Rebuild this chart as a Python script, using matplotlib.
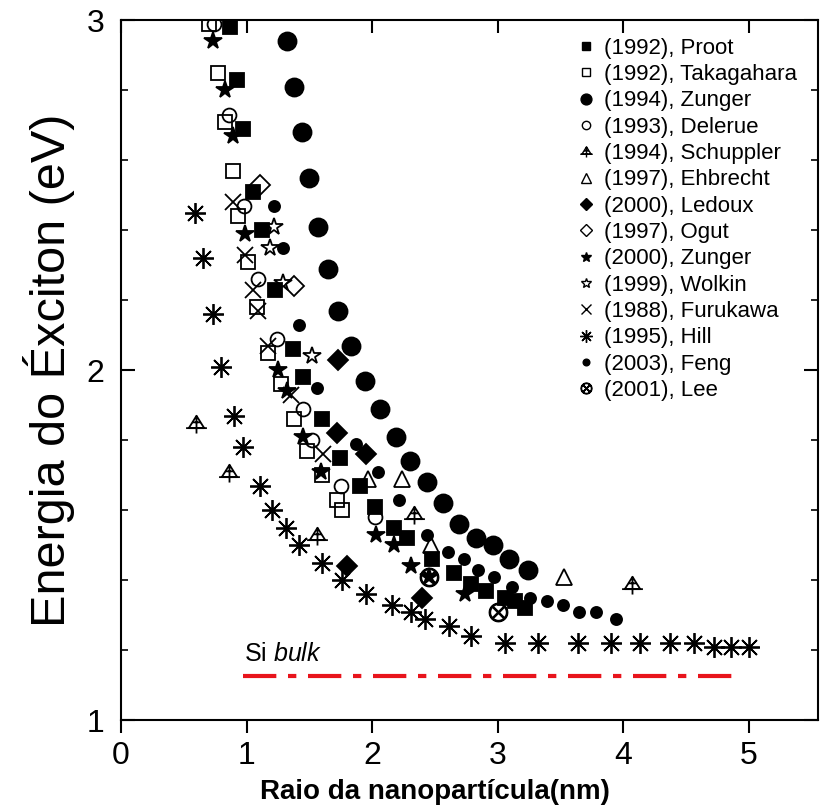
import matplotlib
matplotlib.use("Agg")
import matplotlib.pyplot as plt
from matplotlib.path import Path
from matplotlib.lines import Line2D
from matplotlib.ticker import MultipleLocator

plt.rcParams['font.family'] = ['Liberation Sans', 'DejaVu Sans']
plt.rcParams['mathtext.fontset'] = 'custom'
plt.rcParams['mathtext.rm'] = 'Liberation Sans'
plt.rcParams['mathtext.it'] = 'Liberation Sans:italic'

# ---- dados (raio em nm, energia em eV) ----
proot_x = [0.87, 0.92, 0.97, 1.05, 1.12, 1.23, 1.37, 1.45, 1.60, 1.74, 1.90, 2.02, 2.17, 2.28, 2.48, 2.65, 2.79, 2.91, 3.06, 3.14, 3.22]
proot_y = [2.98, 2.83, 2.69, 2.51, 2.40, 2.23, 2.06, 1.98, 1.86, 1.75, 1.67, 1.61, 1.55, 1.52, 1.46, 1.42, 1.39, 1.37, 1.35, 1.34, 1.32]

takagahara_x = [0.70, 0.77, 0.83, 0.89, 0.93, 1.01, 1.08, 1.17, 1.27, 1.38, 1.48, 1.60, 1.72, 1.76]
takagahara_y = [2.99, 2.85, 2.71, 2.57, 2.44, 2.31, 2.18, 2.05, 1.96, 1.86, 1.77, 1.70, 1.63, 1.60]

zunger94_x = [1.32, 1.38, 1.44, 1.50, 1.57, 1.65, 1.73, 1.83, 1.94, 2.06, 2.19, 2.30, 2.44, 2.56, 2.69, 2.83, 2.96, 3.09, 3.24]
zunger94_y = [2.94, 2.81, 2.68, 2.55, 2.41, 2.29, 2.17, 2.07, 1.97, 1.89, 1.81, 1.74, 1.68, 1.62, 1.56, 1.52, 1.50, 1.46, 1.43]

delerue_x = [0.74, 0.86, 0.98, 1.09, 1.24, 1.45, 1.52, 1.75, 2.02]
delerue_y = [2.99, 2.73, 2.47, 2.26, 2.09, 1.89, 1.80, 1.67, 1.58]

schuppler_x = [0.60, 0.86, 1.56, 2.33, 4.07]
schuppler_y = [1.85, 1.71, 1.53, 1.59, 1.39]

ehbrecht_x = [1.97, 2.24, 2.47, 3.53]
ehbrecht_y = [1.69, 1.69, 1.50, 1.41]

ledoux_x = [1.73, 1.72, 1.95, 1.80, 2.40]
ledoux_y = [2.03, 1.82, 1.76, 1.44, 1.35]

ogut_x = [1.11, 1.38]
ogut_y = [2.53, 2.24]

zunger00_x = [0.73, 0.83, 0.89, 0.99, 1.25, 1.32, 1.45, 1.59, 2.03, 2.17, 2.31, 2.45, 2.74]
zunger00_y = [2.94, 2.80, 2.67, 2.39, 2.00, 1.94, 1.81, 1.71, 1.53, 1.50, 1.44, 1.41, 1.36]

wolkin_x = [1.19, 1.22, 1.29, 1.52]
wolkin_y = [2.35, 2.41, 2.25, 2.04]

furukawa_x = [0.89, 0.99, 1.05, 1.09, 1.17, 1.35, 1.61]
furukawa_y = [2.48, 2.33, 2.23, 2.17, 2.07, 1.93, 1.76]

hill_x = [0.59, 0.65, 0.73, 0.80, 0.90, 0.97, 1.11, 1.20, 1.31, 1.42, 1.60, 1.76, 1.95, 2.16, 2.31, 2.42,
          2.61, 2.79, 3.06, 3.32, 3.64, 3.90, 4.13, 4.37, 4.56, 4.72, 4.86, 5.00]
hill_y = [2.45, 2.32, 2.16, 2.01, 1.87, 1.78, 1.67, 1.60, 1.55, 1.50, 1.45, 1.40, 1.36, 1.33, 1.31, 1.29,
          1.27, 1.24, 1.22, 1.22, 1.22, 1.22, 1.22, 1.22, 1.22, 1.21, 1.21, 1.21]

feng_x = [1.22, 1.29, 1.42, 1.56, 1.87, 2.05, 2.21, 2.44, 2.60, 2.73, 2.84, 2.97, 3.11, 3.26, 3.39, 3.52, 3.65, 3.78, 3.94]
feng_y = [2.47, 2.35, 2.13, 1.95, 1.79, 1.71, 1.63, 1.53, 1.48, 1.46, 1.43, 1.41, 1.38, 1.35, 1.34, 1.33, 1.31, 1.31, 1.29]

lee_x = [2.45, 3.00]
lee_y = [1.41, 1.31]

# energia do Si bulk
bulk_x = [0.97, 4.94]
bulk_energia = 1.125

# marcador triangulo com cruz (Schuppler)
tri_cruz = Path(
    [(-1, -0.6), (1, -0.6), (0, 1), (0, 0),
     (0, 1), (0, -1.3),
     (-1.35, -0.6), (1.35, -0.6),
     (-0.5, 0.15), (0.5, 0.15)],
    [Path.MOVETO, Path.LINETO, Path.LINETO, Path.CLOSEPOLY,
     Path.MOVETO, Path.LINETO,
     Path.MOVETO, Path.LINETO,
     Path.MOVETO, Path.LINETO])

# (label, x, y, marker, tamanho, preenchido)
series = [
    ('(1992), Proot', proot_x, proot_y, 's', 10, True),
    ('(1992), Takagahara', takagahara_x, takagahara_y, 's', 10, False),
    ('(1994), Zunger', zunger94_x, zunger94_y, 'o', 13, True),
    ('(1993), Delerue', delerue_x, delerue_y, 'o', 10, False),
    ('(1994), Schuppler', schuppler_x, schuppler_y, tri_cruz, 15, False),
    ('(1997), Ehbrecht', ehbrecht_x, ehbrecht_y, '^', 12, False),
    ('(2000), Ledoux', ledoux_x, ledoux_y, 'D', 10, True),
    ('(1997), Ogut', ogut_x, ogut_y, 'D', 10, False),
    ('(2000), Zunger', zunger00_x, zunger00_y, '*', 13, True),
    ('(1999), Wolkin', wolkin_x, wolkin_y, '*', 13, False),
    ('(1988), Furukawa', furukawa_x, furukawa_y, 'x', 12, False),
    ('(1995), Hill', hill_x, hill_y, (8, 2, 0), 15, False),
    ('(2003), Feng', feng_x, feng_y, 'o', 8, True),
    ('(2001), Lee', lee_x, lee_y, '$\\otimes$', 13, False),
]

fig = plt.figure(figsize=(8.25, 8.10), dpi=100)
ax = fig.add_axes([0.1467, 0.111, 0.8448, 0.864])

handles = []
for label, xs, ys, mk, ms, cheio in series:
    fc = 'black' if cheio else 'none'
    ax.plot(xs, ys, linestyle='none', marker=mk, markersize=ms,
            markerfacecolor=fc, markeredgecolor='black', markeredgewidth=1.3, zorder=3)
    handles.append(Line2D([], [], linestyle='none', marker=mk, markersize=ms * 0.6,
                          markerfacecolor=fc, markeredgecolor='black', markeredgewidth=1.0, label=label))

# linha do Si bulk
ax.plot(bulk_x, [bulk_energia, bulk_energia], color='#e8141c', linewidth=3,
        dashes=(8.0, 2.8, 2.0, 2.8), solid_capstyle='butt', dash_capstyle='butt', zorder=2)
ax.text(bulk_x[0] + 0.01, bulk_energia + 0.03, 'Si $\\mathit{bulk}$', fontsize=18, ha='left', va='bottom')

ax.legend(handles=handles, loc='upper left', bbox_to_anchor=(0.654, 0.975), frameon=False,
          fontsize=16, handlelength=0.8, handletextpad=0.4, labelspacing=0.24,
          borderpad=0, borderaxespad=0)

ax.set_xlim(0, 5.55)
ax.set_ylim(1, 3)
ax.xaxis.set_major_locator(MultipleLocator(1))
ax.yaxis.set_major_locator(MultipleLocator(1))
ax.yaxis.set_minor_locator(MultipleLocator(0.2))

for s in ax.spines.values():
    s.set_linewidth(1.5)

ax.tick_params(axis='x', which='major', direction='out', length=9, width=1.5, labelsize=23, top=True, pad=6)
ax.tick_params(axis='y', which='major', direction='in', length=10, width=1.5, labelsize=23, right=True, pad=12)
ax.tick_params(axis='y', which='minor', direction='in', length=5, width=1.2, right=True)
# ticks de cima para dentro
for t in ax.xaxis.get_major_ticks():
    t.tick2line.set_marker(3)

ax.set_xlabel('Raio da nanopartícula(nm)', fontsize=20, fontweight='bold', labelpad=2)
ax.xaxis.set_label_coords(0.45, -0.084)
ax.set_ylabel('Energia do Éxciton (eV)', fontsize=35, labelpad=8)

fig.savefig('out.png', dpi=100)
